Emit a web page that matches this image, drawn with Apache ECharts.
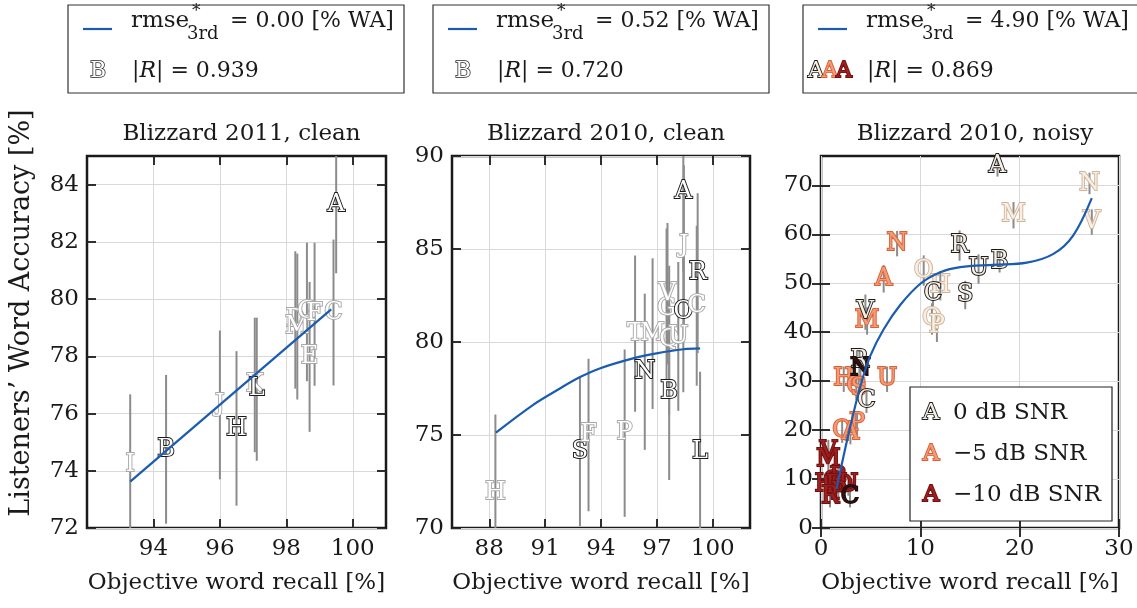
<!DOCTYPE html>
<html><head><meta charset="utf-8">
<script src="https://cdn.jsdelivr.net/npm/echarts@6/dist/echarts.min.js"></script>
<style>html,body{margin:0;padding:0;background:#fff}#c{width:1137px;height:608px}</style>
</head><body><div id="c"></div>
<script>
// ---------- Panel 1: Blizzard 2011, clean ----------
const p1Title = 'Blizzard 2011, clean';
const p1Labels   = ['I','B','J','H','K','L','D','M','G','E','F','C','A'];
const p1Recall   = [93.3, 94.38, 96.0, 96.5, 97.05, 97.11, 98.27, 98.33, 98.62, 98.7, 98.85, 99.42, 99.5];
const p1Accuracy = [74.2, 74.75, 76.3, 75.48, 77.0, 76.85, 79.27, 79.04, 79.55, 77.98, 79.47, 79.53, 83.3];
const p1Error    = [2.47, 2.6, 2.6, 2.7, 2.35, 2.5, 2.4, 2.55, 2.42, 2.62, 2.5, 2.55, 2.4];
const p1Shade    = ['light','dark','light','dark','light','dark','light','light','light','light','light','light','dark'];
const p1FitRecall   = [93.3, 99.35];
const p1FitAccuracy = [73.62, 79.64];
const p1XTicks = [94, 96, 98, 100];
const p1YTicks = [72, 74, 76, 78, 80, 82, 84];

// ---------- Panel 2: Blizzard 2010, clean ----------
const p2Title = 'Blizzard 2010, clean';
const p2Labels   = ['H','S','F','P','T','N','M','G','V','B','Q','U','O','A','J','C','R','L'];
const p2Recall   = [88.33, 92.87, 93.33, 95.27, 95.83, 96.35, 96.77, 97.52, 97.57, 97.66, 97.66, 98.15, 98.42, 98.42, 98.45, 99.14, 99.19, 99.32];
const p2Accuracy = [71.9, 74.1, 75.0, 75.1, 80.45, 78.4, 80.45, 81.8, 82.6, 77.33, 80.1, 80.3, 81.6, 88.1, 85.2, 81.95, 83.7, 74.1];
const p2Error    = [4.2, 4.0, 4.1, 4.5, 4.2, 4.2, 4.05, 4.3, 3.8, 4.75, 4.0, 4.0, 4.3, 4.3, 4.3, 4.3, 4.3, 4.3];
const p2Shade    = ['light','dark','light','light','light','dark','light','light','light','dark','light','light','dark','dark','light','light','dark','dark'];
const p2FitRecall   = [88.36, 90.34, 91.59, 92.85, 93.93, 95.72, 96.98, 98.42, 99.32];
const p2FitAccuracy = [75.13, 76.61, 77.38, 78.1, 78.58, 79.12, 79.39, 79.61, 79.66];
const p2XTicks = [88, 91, 94, 97, 100];
const p2YTicks = [70, 75, 80, 85, 90];

// ---------- Panel 3: Blizzard 2010, noisy ----------
const p3Title = 'Blizzard 2010, noisy';
const p3Labels   = ['N','M','V','O','H','Q','P',
                    'N','A','M','H','O','S','U','Q','P','A',
                    'V','M','H','Q','B','D','O','U','P','R','C',
                    'A','R','U','B','C','S','V','R','N','C'];
const p3Recall   = [27.03, 19.38, 27.26, 10.34, 12.01, 11.17, 11.67,
                    7.66, 6.31, 4.64, 2.29, 3.55, 3.8, 6.65, 2.13, 3.63, 2.96,
                    0.74, 0.74, 0.4, 1.2, 1.74, 1.41, 2.25, 2.75, 1.74, 0.91, 2.92,
                    17.77, 13.95, 15.86, 17.98, 11.27, 14.52, 4.47, 3.87, 3.97, 4.58];
const p3Accuracy = [70.4, 63.9, 62.5, 52.6, 49.5, 42.7, 41.3,
                    58.1, 50.9, 42.3, 30.4, 28.8, 28.5, 30.4, 19.8, 21.3, 19.5,
                    15.6, 13.9, 8.8, 9.5, 10.3, 8.6, 8.6, 8.8, 7.3, 6.4, 6.4,
                    74.1, 57.7, 52.9, 54.4, 47.8, 47.6, 44.1, 34.2, 32.5, 26.0];
const p3Error    = [2.2, 2.7, 2.6, 3.1, 3.0, 3.2, 3.3,
                    2.6, 2.8, 2.8, 2.6, 2.6, 2.6, 2.6, 2.4, 2.4, 2.4,
                    2.4, 2.4, 2.2, 2.2, 2.2, 2.2, 2.2, 2.2, 2.2, 2.2, 2.2,
                    2.3, 3.1, 3.0, 2.2, 2.5, 2.9, 3.6, 2.6, 2.6, 2.5];
const p3Tone     = ['beige','beige','beige','beige','beige','beige','beige',
                    'orange','orange','orange','orange','orange','orange','orange','orange','orange','orange',
                    'red','red','red','red','red','red','red','red','red','red','blackred',
                    'cream','cream','cream','cream','cream','cream','cream','cream','blackred','cream'];
const p3FitRecall   = [1.56, 2.8, 3.97, 4.97, 6.31, 7.99, 10.0, 12.01, 14.02, 17.37, 20.72, 23.4, 25.4, 27.26];
const p3FitAccuracy = [7.99, 19.47, 29.0, 35.2, 40.6, 45.6, 49.9, 52.25, 53.3, 53.76, 54.2, 56.0, 59.8, 67.4];
const p3XTicks = [0, 10, 20, 30];
const p3YTicks = [0, 10, 20, 30, 40, 50, 60, 70];
const p3LegendNames = ['0 dB SNR', '\u22125 dB SNR', '\u221210 dB SNR'];
const p3LegendTones = ['cream', 'orange', 'red'];

// ---------- Top legends ----------
const rmseValues = ['0.00', '0.52', '4.90'];
const corrValues = ['0.939', '0.720', '0.869'];

const FONT = 'DejaVu Serif';
const INK = '#1a1a1a';
const BLUE = '#1b5cb0';
const TONES = {
  dark:     {fill: '#ffffff', stroke: '#1a1a1a'},
  light:    {fill: '#ffffff', stroke: '#a9a9a9'},
  cream:    {fill: '#f8efe4', stroke: '#1a1a1a'},
  beige:    {fill: '#f7eee4', stroke: '#d0b59a'},
  orange:   {fill: '#f29b74', stroke: '#d8623a'},
  red:      {fill: '#9c2020', stroke: '#741010'},
  blackred: {fill: '#3a0c0c', stroke: '#111111'}
};
const LETTER_W = 1.9;

const grids = [
  {left: 87, top: 156, width: 299, height: 372},
  {left: 452, top: 156, width: 298, height: 372},
  {left: 821, top: 156, width: 298, height: 372}
];
const xExt = [[92, 101], [86, 102], [0, 30]];
const yExt = [[72, 85], [70, 90], [0, 76]];
const xTicks = [p1XTicks, p2XTicks, p3XTicks];
const yTicks = [p1YTicks, p2YTicks, p3YTicks];

function tickStyle(vals) {
  return {show: true, inside: true, length: 9, customValues: vals,
          lineStyle: {color: INK, width: 1.8}};
}
const labelText = {color: INK, fontFamily: FONT, fontSize: 23};

const xAxes = [], yAxes = [];
for (let g = 0; g < 3; g++) {
  xAxes.push({
    type: 'value', gridIndex: g, position: 'bottom', min: xExt[g][0], max: xExt[g][1],
    axisLine: {show: false}, axisTick: tickStyle(xTicks[g]),
    axisLabel: Object.assign({show: true, margin: 10, customValues: xTicks[g]}, labelText),
    splitLine: {show: true, lineStyle: {color: '#d9d9d9', width: 1}},
    name: 'Objective word recall [%]', nameLocation: 'middle', nameGap: 44,
    nameTextStyle: labelText
  });
  yAxes.push({
    type: 'value', gridIndex: g, position: 'left', min: yExt[g][0], max: yExt[g][1],
    axisLine: {show: false}, axisTick: tickStyle(yTicks[g]),
    axisLabel: Object.assign({show: true, margin: 8, customValues: yTicks[g]}, labelText),
    splitLine: {show: true, lineStyle: {color: '#d9d9d9', width: 1}}
  });
}
for (let g = 0; g < 3; g++) {
  xAxes.push({type: 'value', gridIndex: g, position: 'top', min: xExt[g][0], max: xExt[g][1],
    axisLine: {show: false}, axisTick: tickStyle(xTicks[g]), axisLabel: {show: false}, splitLine: {show: false}});
  yAxes.push({type: 'value', gridIndex: g, position: 'right', min: yExt[g][0], max: yExt[g][1],
    axisLine: {show: false}, axisTick: tickStyle(yTicks[g]), axisLabel: {show: false}, splitLine: {show: false}});
}

function errorBars(g, xs, ys, es) {
  return {
    type: 'custom', xAxisIndex: g, yAxisIndex: g, z: 2, silent: true,
    data: xs.map((x, i) => [x, ys[i] - es[i], ys[i] + es[i]]),
    renderItem(params, api) {
      const lo = api.coord([api.value(0), api.value(1)]);
      const hi = api.coord([api.value(0), api.value(2)]);
      const cs = params.coordSys;
      const clampY = v => Math.min(Math.max(v, cs.y), cs.y + cs.height);
      return {type: 'line', shape: {x1: lo[0], y1: clampY(lo[1]), x2: hi[0], y2: clampY(hi[1])},
              style: {stroke: '#8c8c8c', lineWidth: 2}};
    }
  };
}
function letters(g, labels, xs, ys, tones) {
  return {
    type: 'custom', xAxisIndex: g, yAxisIndex: g, z: 4, silent: true,
    data: xs.map((x, i) => [x, ys[i], i]),
    renderItem(params, api) {
      const i = api.value(2);
      const p = api.coord([api.value(0), api.value(1)]);
      const t = TONES[tones[i]];
      return {type: 'text', x: p[0], y: p[1],
        style: {text: labels[i], fill: t.fill, stroke: t.stroke, lineWidth: LETTER_W,
                font: '24px "' + FONT + '"', align: 'center', verticalAlign: 'middle',
                textAlign: 'center', textVerticalAlign: 'middle'}};
    }
  };
}
function fit(g, xs, ys, smooth) {
  return {type: 'line', xAxisIndex: g, yAxisIndex: g, z: 5, silent: true, symbol: 'none',
          smooth: smooth,
          data: xs.map((x, i) => [x, ys[i]]), lineStyle: {color: BLUE, width: 2.2}};
}

const series = [
  errorBars(0, p1Recall, p1Accuracy, p1Error),
  letters(0, p1Labels, p1Recall, p1Accuracy, p1Shade),
  fit(0, p1FitRecall, p1FitAccuracy, false),
  errorBars(1, p2Recall, p2Accuracy, p2Error),
  letters(1, p2Labels, p2Recall, p2Accuracy, p2Shade),
  fit(1, p2FitRecall, p2FitAccuracy, 0.35),
  errorBars(2, p3Recall, p3Accuracy, p3Error),
  letters(2, p3Labels, p3Recall, p3Accuracy, p3Tone),
  fit(2, p3FitRecall, p3FitAccuracy, 0.35)
];

const titles = [p1Title, p2Title, p3Title].map((t, g) => ({
  text: t, left: grids[g].left + grids[g].width / 2, top: 118, textAlign: 'center',
  textStyle: {fontFamily: FONT, fontSize: 23, fontWeight: 'normal', color: INK}
}));

function txt(x, y, text, size, extra) {
  return Object.assign({type: 'text', x: x, y: y, z: 20,
    style: Object.assign({text: text, font: size + 'px "' + FONT + '"', fill: INK,
      align: 'left', verticalAlign: 'middle', textAlign: 'left', textVerticalAlign: 'middle'}, extra || {})});
}
function glyph(x, y, tone, size) {
  const t = TONES[tone];
  return {type: 'text', x: x, y: y, z: 21,
    style: {text: 'A', font: size + 'px "' + FONT + '"', fill: t.fill, stroke: t.stroke, lineWidth: LETTER_W,
      align: 'center', verticalAlign: 'middle', textAlign: 'center', textVerticalAlign: 'middle'}};
}

const graphic = [];
// y-axis title (shared, left side)
graphic.push({type: 'text', x: 22, y: 313, rotation: Math.PI / 2, z: 20,
  style: {text: 'Listeners\u2019 Word Accuracy [%]', font: '27px "' + FONT + '"', fill: INK,
    align: 'center', verticalAlign: 'middle', textAlign: 'center', textVerticalAlign: 'middle'}});

const boxLefts = [68, 433, 803];
boxLefts.forEach((L, k) => {
  graphic.push({type: 'rect', z: 19, shape: {x: L, y: 5, width: 336, height: 88},
                style: {fill: '#fff', stroke: '#333', lineWidth: 1.2}});
  graphic.push({type: 'line', z: 20, shape: {x1: L + 15, y1: 29, x2: L + 44, y2: 29},
                style: {stroke: BLUE, lineWidth: 2.2}});
  graphic.push(txt(L + 63, 21, 'rmse', 23));
  graphic.push(txt(L + 124, 12, '*', 17));
  graphic.push(txt(L + 119, 34, '3rd', 18));
  graphic.push(txt(L + 162, 21, '= ' + rmseValues[k] + ' [% WA]', 22));
  graphic.push(txt(L + 64, 71, '{n||}{i|R}{n|| = ' + corrValues[k] + '}', 22, {
    rich: {n: {fontFamily: FONT, fontSize: 22, fill: INK, color: INK},
           i: {fontFamily: FONT, fontSize: 22, fontStyle: 'italic', fill: INK, color: INK}}}));
  if (k < 2) {
    graphic.push({type: 'text', x: L + 30, y: 71, z: 21,
      style: {text: 'B', font: '22px "' + FONT + '"', fill: '#fff', stroke: INK, lineWidth: 1.5,
        align: 'center', verticalAlign: 'middle', textAlign: 'center', textVerticalAlign: 'middle'}});
  } else {
    graphic.push(glyph(L + 13, 71, 'cream', 22));
    graphic.push(glyph(L + 27, 71, 'orange', 22));
    graphic.push(glyph(L + 41, 71, 'red', 22));
  }
});
// legend inside panel 3
graphic.push({type: 'rect', z: 19, shape: {x: 910, y: 387, width: 202, height: 134},
              style: {fill: '#fff', stroke: '#222', lineWidth: 1.2}});
[413, 454, 495].forEach((y, k) => {
  graphic.push(glyph(931, y, p3LegendTones[k], 23));
  graphic.push(txt(953, y, p3LegendNames[k], 23));
});

const chart = echarts.init(document.getElementById('c'), null, {renderer: 'canvas'});
chart.setOption({
  animation: false,
  backgroundColor: '#fff',
  textStyle: {fontFamily: FONT},
  title: titles,
  grid: grids.map(gr => Object.assign({}, gr, {show: true, borderColor: INK, borderWidth: 2.5,
    backgroundColor: 'transparent', containLabel: false, outerBoundsMode: 'none'})),
  xAxis: xAxes,
  yAxis: yAxes,
  series: series,
  graphic: graphic
});
</script>
</body></html>
